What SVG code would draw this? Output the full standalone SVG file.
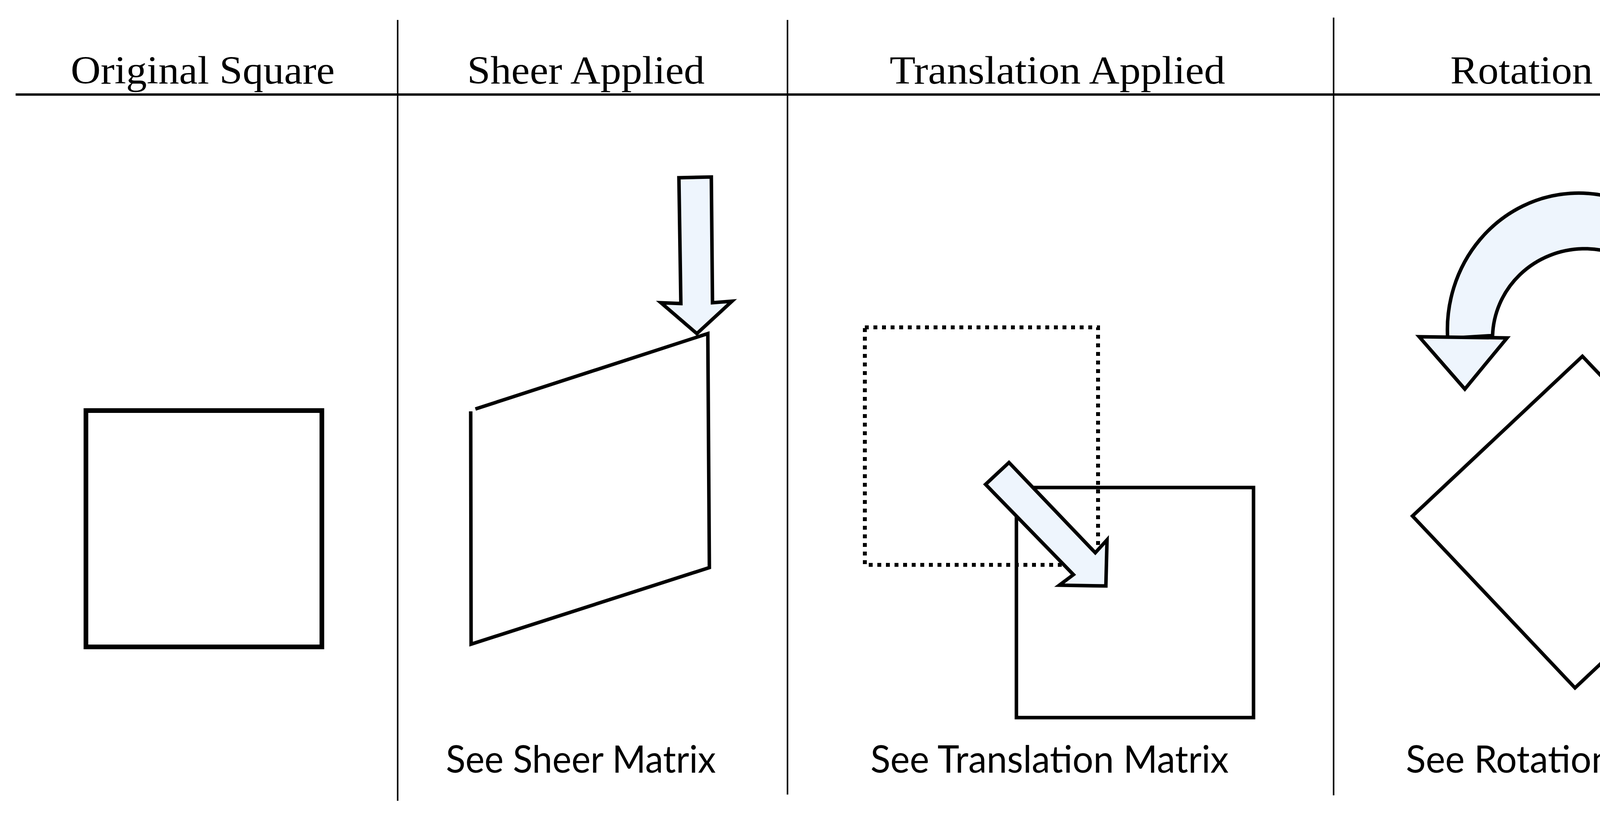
<svg xmlns="http://www.w3.org/2000/svg" width="5869" height="2094" viewBox="0 0 5869 2094">
<style>
.title{font-family:"Liberation Serif","Times New Roman",serif;font-size:102px;fill:#000;text-anchor:middle}
.note{font-family:Lato,"Open Sans","Liberation Sans",sans-serif;font-size:96px;fill:#000;text-anchor:middle}
.div{stroke:#000;stroke-width:4;fill:none}
.shape{fill:none;stroke:#000;stroke-linejoin:miter}
.arrow{fill:#EEF5FD;stroke:#000;stroke-width:9;stroke-linejoin:miter}
</style>
<rect width="5869" height="2094" fill="#fff"/>
<g id="dividers">
<line class="div" x1="40" y1="242" x2="5830" y2="242" style="stroke-width:6"/>
<line class="div" x1="1018" y1="51" x2="1018" y2="2050"/>
<line class="div" x1="2016" y1="51" x2="2016" y2="2034"/>
<line class="div" x1="3414" y1="45" x2="3414" y2="2036"/>
<line class="div" x1="4614" y1="45" x2="4614" y2="2044"/>
</g>
<g id="titles">
<text class="title" x="519" y="214" textLength="676" lengthAdjust="spacingAndGlyphs">Original Square</text>
<text class="title" x="1500" y="214" textLength="608" lengthAdjust="spacingAndGlyphs">Sheer Applied</text>
<text class="title" x="2707" y="214" textLength="859" lengthAdjust="spacingAndGlyphs">Translation Applied</text>
<text class="title" x="4076" y="214" textLength="726" lengthAdjust="spacingAndGlyphs">Rotation Applied</text>
<text class="title" x="5233" y="214" textLength="675" lengthAdjust="spacingAndGlyphs">Scaling Applied</text>
</g>
<g id="original">
<rect class="shape" x="220" y="1051" width="604" height="605" style="stroke-width:12"/>
</g>
<g id="sheer">
<polyline class="shape" points="1217,1047 1812,854 1816,1453 1206,1649 1205,1053" style="stroke-width:9"/>
<polygon class="arrow" points="1738,455 1821,453 1824,775 1874,771 1784,854 1692,775 1743,777"/>
<text class="note" x="1487" y="1978" textLength="691" lengthAdjust="spacingAndGlyphs">See Sheer Matrix</text>
</g>
<g id="translation">
<rect class="shape" x="2214" y="838" width="597" height="608" style="stroke-width:10;stroke-dasharray:10 12"/>
<rect class="shape" x="2602" y="1248" width="607" height="589" style="stroke-width:9"/>
<polygon class="arrow" points="2523,1240 2583,1184 2804,1415 2834,1382 2831,1500 2712,1498 2748,1471"/>
<text class="note" x="2687" y="1978" textLength="917" lengthAdjust="spacingAndGlyphs">See Translation Matrix</text>
</g>
<g id="rotation">
<polygon class="shape" points="4051,912 4468,1350 4032,1761 3616,1321" style="stroke-width:9"/>
<path class="arrow" d="M3706,866 A335,349 0 0 1 4376,822 L4292,847 A236,230 0 0 0 3821,859 Z"/>
<polygon class="arrow" points="3633,862 3858,865 3750,996"/>
<text class="note" x="4010" y="1978" textLength="822" lengthAdjust="spacingAndGlyphs">See Rotation Matrix</text>
</g>
<g id="scaling">
<rect class="shape" x="4807" y="849" width="825" height="805" style="stroke-width:11"/>
<polygon class="arrow" points="5291,866 5372,945 5331,945 5331,1266 5252,1266 5252,945 5210,945"/>
<polygon class="arrow" points="5185,1509 5505,1509 5505,1469 5585,1549 5505,1632 5505,1590 5185,1590"/>
<text class="note" x="5258" y="1978" textLength="725" lengthAdjust="spacingAndGlyphs">See Scaling Matrix</text>
</g>
<g id="connectors"></g>
</svg>
